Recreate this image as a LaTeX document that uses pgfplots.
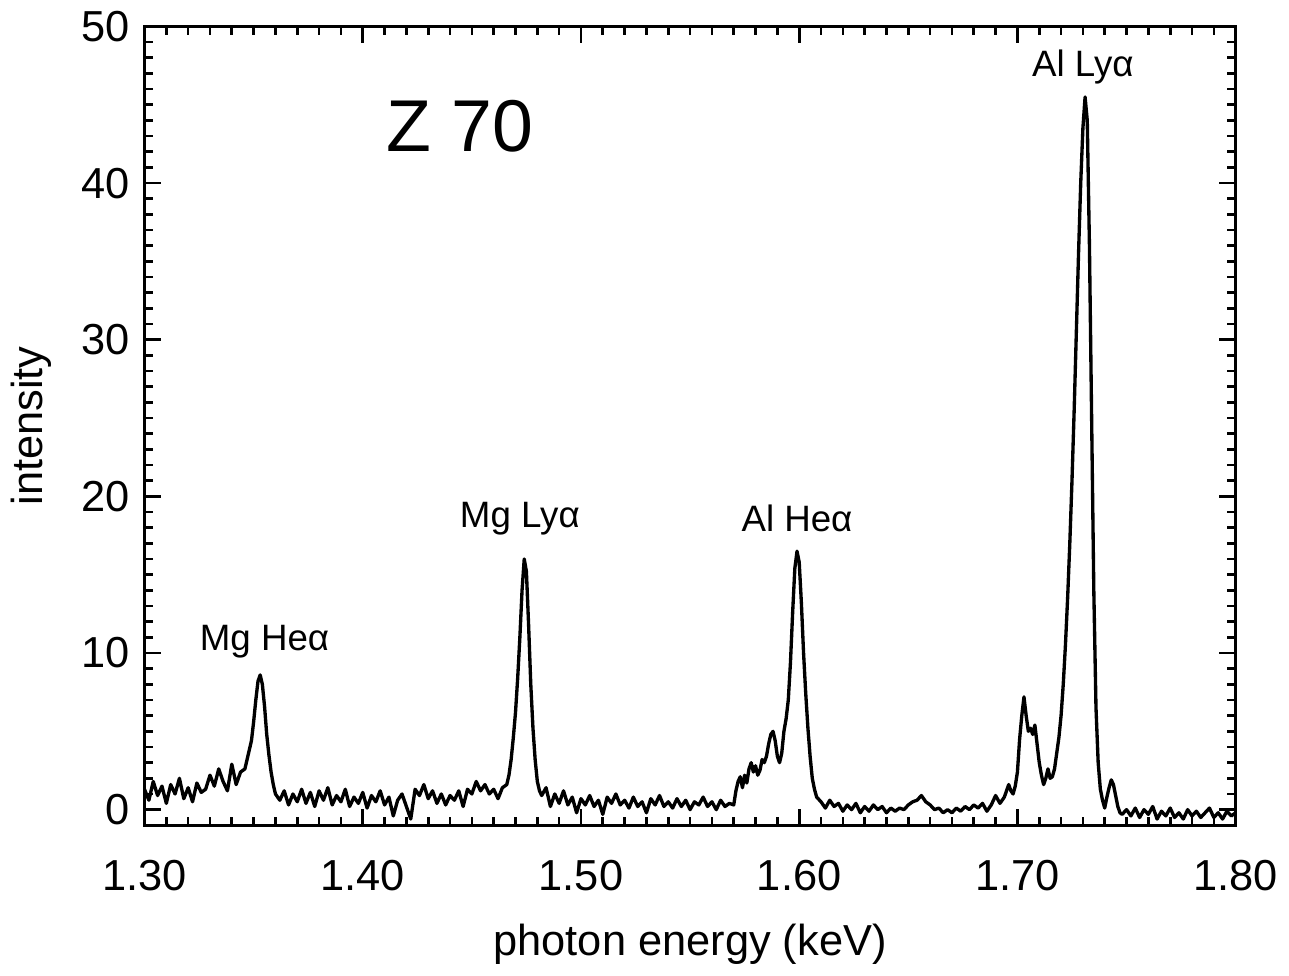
\documentclass[border=0pt]{standalone}
\usepackage{pgfplots}
\pgfplotsset{compat=1.18}
\usepackage{fontspec}
\setmainfont{Liberation Sans}
\pgfplotstableread{
x y
1.300 1.3
1.302 0.6
1.304 1.8
1.306 0.9
1.308 1.5
1.310 0.4
1.312 1.6
1.314 1.0
1.316 2.0
1.318 0.7
1.320 1.4
1.322 0.5
1.324 1.7
1.326 1.1
1.328 1.3
1.330 2.2
1.332 1.5
1.334 2.6
1.336 1.8
1.338 1.2
1.340 2.9
1.342 1.6
1.344 2.4
1.346 2.6
1.347 3.2
1.348 3.8
1.349 4.4
1.350 5.6
1.351 7.0
1.352 8.2
1.353 8.6
1.354 8.0
1.355 6.6
1.356 4.8
1.357 3.5
1.358 2.4
1.359 1.6
1.360 1.0
1.362 0.6
1.364 1.2
1.366 0.3
1.368 1.0
1.370 0.5
1.372 1.3
1.374 0.4
1.376 1.1
1.378 0.2
1.380 1.2
1.382 0.6
1.384 1.4
1.386 0.3
1.388 0.9
1.390 0.5
1.392 1.3
1.394 0.2
1.396 0.8
1.398 0.4
1.400 1.1
1.402 0.1
1.404 0.9
1.406 0.5
1.408 1.2
1.410 0.3
1.412 0.8
1.414 -0.4
1.416 0.6
1.418 1.0
1.420 0.2
1.422 -0.6
1.424 1.3
1.426 0.9
1.428 1.6
1.430 0.7
1.432 1.2
1.434 0.4
1.436 1.0
1.438 0.3
1.440 0.9
1.442 0.6
1.444 1.2
1.446 0.2
1.448 1.3
1.450 1.0
1.452 1.8
1.454 1.2
1.456 1.6
1.458 1.0
1.460 1.3
1.462 0.7
1.464 1.4
1.466 1.6
1.467 2.2
1.468 3.2
1.469 4.6
1.470 6.2
1.471 8.4
1.472 11.0
1.473 14.0
1.474 16.0
1.475 15.2
1.476 11.8
1.477 8.0
1.478 5.2
1.479 3.2
1.480 1.8
1.481 1.2
1.482 0.9
1.484 1.4
1.486 0.2
1.488 1.0
1.490 0.4
1.492 1.2
1.494 0.3
1.496 0.8
1.498 -0.2
1.500 0.7
1.502 0.3
1.504 0.9
1.506 0.2
1.508 0.6
1.510 -0.3
1.512 0.8
1.514 0.4
1.516 1.0
1.518 0.3
1.520 0.6
1.522 0.1
1.524 0.8
1.526 0.2
1.528 0.5
1.530 -0.2
1.532 0.7
1.534 0.3
1.536 0.9
1.538 0.2
1.540 0.5
1.542 0.1
1.544 0.7
1.546 0.2
1.548 0.6
1.550 0.0
1.552 0.5
1.554 0.3
1.556 0.8
1.558 0.2
1.560 0.5
1.562 0.0
1.564 0.6
1.566 0.2
1.568 0.4
1.570 0.3
1.571 1.2
1.572 1.8
1.573 2.1
1.574 1.4
1.575 2.2
1.576 1.7
1.577 2.6
1.578 3.0
1.579 2.4
1.580 2.8
1.581 2.2
1.582 2.5
1.583 3.2
1.584 3.0
1.585 3.4
1.586 4.2
1.587 4.8
1.588 5.0
1.589 4.4
1.590 3.4
1.591 3.0
1.592 3.6
1.593 5.0
1.594 5.8
1.595 7.0
1.596 9.4
1.597 12.6
1.598 15.4
1.599 16.5
1.600 15.8
1.601 13.2
1.602 10.0
1.603 7.4
1.604 5.2
1.605 3.4
1.606 2.0
1.607 1.3
1.608 0.8
1.610 0.5
1.612 0.1
1.614 0.6
1.616 0.2
1.618 0.4
1.620 -0.1
1.622 0.3
1.624 0.0
1.626 0.4
1.628 -0.2
1.630 0.2
1.632 -0.1
1.634 0.3
1.636 0.0
1.638 0.2
1.640 -0.2
1.642 0.1
1.644 -0.1
1.646 0.1
1.648 0.0
1.650 0.3
1.652 0.5
1.654 0.6
1.656 0.9
1.658 0.5
1.660 0.3
1.662 0.0
1.664 0.1
1.666 -0.2
1.668 0.0
1.670 -0.2
1.672 0.1
1.674 -0.1
1.676 0.2
1.678 0.0
1.680 0.3
1.682 0.1
1.684 0.4
1.686 -0.1
1.688 0.3
1.690 0.9
1.692 0.4
1.694 0.8
1.696 1.6
1.697 1.2
1.698 1.0
1.699 1.5
1.700 2.4
1.701 4.5
1.702 6.0
1.703 7.2
1.704 6.0
1.705 5.0
1.706 5.2
1.707 4.8
1.708 5.4
1.709 4.2
1.710 3.0
1.711 2.2
1.712 1.6
1.713 2.0
1.714 2.6
1.715 2.0
1.716 2.1
1.717 2.6
1.718 3.6
1.719 4.6
1.720 6.0
1.721 8.0
1.722 10.5
1.723 13.5
1.724 17.0
1.725 21.0
1.726 25.5
1.727 30.5
1.728 35.5
1.729 40.0
1.730 43.5
1.731 45.5
1.732 44.0
1.733 36.0
1.734 25.0
1.735 14.0
1.736 6.5
1.737 3.0
1.738 1.3
1.739 0.6
1.740 0.1
1.741 0.8
1.742 1.4
1.743 1.9
1.744 1.6
1.745 0.9
1.746 0.2
1.747 -0.2
1.748 -0.3
1.750 0.0
1.752 -0.4
1.754 0.1
1.756 -0.5
1.758 0.0
1.760 -0.3
1.762 0.2
1.764 -0.6
1.766 -0.1
1.768 -0.4
1.770 0.1
1.772 -0.5
1.774 -0.2
1.776 -0.6
1.778 0.0
1.780 -0.4
1.782 -0.1
1.784 -0.5
1.786 -0.2
1.788 0.1
1.790 -0.5
1.792 -0.2
1.794 -0.6
1.796 -0.1
1.798 -0.4
1.800 -0.2
}\spectrum
\begin{document}
\begin{tikzpicture}
\begin{axis}[
  scale only axis, width=327pt, height=239.4pt,
  xmin=1.30, xmax=1.80, ymin=-1, ymax=50,
  xtick={1.3,1.4,1.5,1.6,1.7,1.8},
  ytick={0,10,20,30,40,50},
  minor x tick num=9, minor y tick num=9,
  axis line style={line width=1pt},
  major tick length=5pt, minor tick length=2.5pt,
  every tick/.style={line width=0.8pt, black},
  tick label style={font=\fontsize{13}{15}\selectfont},
  xticklabel style={/pgf/number format/.cd, fixed, fixed zerofill, precision=2, /tikz/.cd, yshift=-7pt},
  yticklabel style={xshift=-1pt},
  /pgf/number format/assume math mode=true,
  xlabel={photon energy (keV)}, ylabel={intensity},
  label style={font=\fontsize{13}{15}\selectfont},
  xlabel style={yshift=-3pt},
  ylabel style={yshift=2pt},
  clip=true,
]
\addplot[black, line width=1pt, line join=round] table[x=x, y=y] {\spectrum};
\node[font=\fontsize{22}{26}\selectfont] at (axis cs:1.4445,43.6) {Z 70};
\node[font=\fontsize{11}{13}\selectfont] at (axis cs:1.355,10.7) {Mg Heα};
\node[font=\fontsize{11}{13}\selectfont] at (axis cs:1.472,18.6) {Mg Lyα};
\node[font=\fontsize{11}{13}\selectfont] at (axis cs:1.599,18.6) {Al Heα};
\node[font=\fontsize{11}{13}\selectfont] at (axis cs:1.730,47.4) {Al Lyα};
\end{axis}
\end{tikzpicture}
\end{document}
